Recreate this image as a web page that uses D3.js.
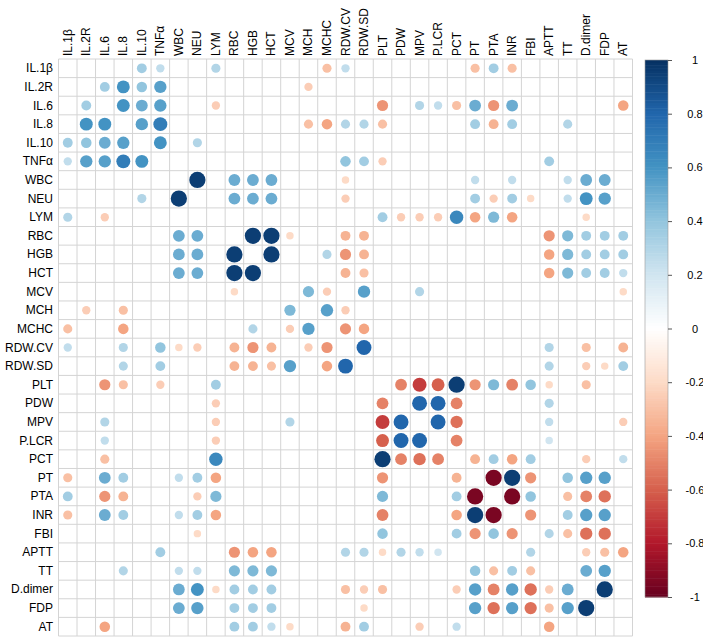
<!DOCTYPE html>
<html><head><meta charset="utf-8">
<script src="https://cdn.jsdelivr.net/npm/d3@7"></script>
<style>body{margin:0;background:#fff}svg{display:block}text{font-family:Arial,"Liberation Sans",sans-serif}</style>
</head><body>
<script>
const variables = ["IL.1β","IL.2R","IL.6","IL.8","IL.10","TNFα","WBC","NEU","LYM","RBC","HGB","HCT","MCV","MCH","MCHC","RDW.CV","RDW.SD","PLT","PDW","MPV","P.LCR","PCT","PT","PTA","INR","FBI","APTT","TT","D.dimer","FDP","AT"];

// upper-triangle correlations [row, column, r]; blank cells are omitted
const correlations = [
 ["IL.1β","IL.10",0.35],["IL.1β","TNFα",0.25],["IL.1β","LYM",0.3],["IL.1β","MCHC",-0.3],["IL.1β","RDW.CV",0.25],["IL.1β","PT",-0.3],["IL.1β","PTA",0.35],["IL.1β","INR",-0.3],
 ["IL.2R","IL.6",0.35],["IL.2R","IL.8",0.6],["IL.2R","IL.10",0.4],["IL.2R","TNFα",0.55],["IL.2R","MCH",-0.25],
 ["IL.6","IL.8",0.6],["IL.6","IL.10",0.5],["IL.6","TNFα",0.55],["IL.6","LYM",-0.25],["IL.6","PLT",-0.45],["IL.6","MPV",0.3],["IL.6","P.LCR",0.25],["IL.6","PCT",-0.3],["IL.6","PT",0.5],["IL.6","PTA",-0.45],["IL.6","INR",0.5],["IL.6","AT",-0.4],
 ["IL.8","IL.10",0.55],["IL.8","TNFα",0.7],["IL.8","MCH",-0.3],["IL.8","MCHC",-0.4],["IL.8","RDW.CV",0.3],["IL.8","RDW.SD",0.3],["IL.8","PLT",-0.3],["IL.8","PT",0.35],["IL.8","PTA",-0.35],["IL.8","INR",0.35],["IL.8","TT",0.3],
 ["IL.10","TNFα",0.6],["IL.10","NEU",0.3],
 ["TNFα","RDW.CV",0.4],["TNFα","RDW.SD",0.35],["TNFα","PLT",-0.25],["TNFα","APTT",0.35],
 ["WBC","NEU",0.95],["WBC","RBC",0.5],["WBC","HGB",0.5],["WBC","HCT",0.5],["WBC","RDW.CV",-0.2],["WBC","PT",0.25],["WBC","INR",0.25],["WBC","TT",0.25],["WBC","D.dimer",0.5],["WBC","FDP",0.5],
 ["NEU","RBC",0.5],["NEU","HGB",0.5],["NEU","HCT",0.5],["NEU","RDW.CV",-0.25],["NEU","PT",0.35],["NEU","PTA",-0.25],["NEU","INR",0.35],["NEU","FBI",-0.2],["NEU","TT",0.25],["NEU","D.dimer",0.6],["NEU","FDP",0.55],
 ["LYM","PLT",0.35],["LYM","PDW",-0.25],["LYM","MPV",-0.25],["LYM","P.LCR",-0.25],["LYM","PCT",0.65],["LYM","PT",-0.4],["LYM","PTA",0.45],["LYM","INR",-0.4],["LYM","D.dimer",-0.2],
 ["RBC","HGB",0.95],["RBC","HCT",0.95],["RBC","MCV",-0.2],["RBC","RDW.CV",-0.35],["RBC","RDW.SD",-0.35],["RBC","APTT",-0.45],["RBC","TT",0.45],["RBC","D.dimer",0.35],["RBC","FDP",0.35],["RBC","AT",0.35],
 ["HGB","HCT",0.95],["HGB","MCHC",0.3],["HGB","RDW.CV",-0.45],["HGB","RDW.SD",-0.35],["HGB","APTT",-0.4],["HGB","TT",0.45],["HGB","D.dimer",0.35],["HGB","FDP",0.35],["HGB","AT",0.35],
 ["HCT","RDW.CV",-0.35],["HCT","RDW.SD",-0.3],["HCT","APTT",-0.4],["HCT","TT",0.45],["HCT","D.dimer",0.35],["HCT","FDP",0.35],["HCT","AT",0.25],
 ["MCV","MCH",0.45],["MCV","MCHC",-0.25],["MCV","RDW.SD",0.55],["MCV","MPV",0.3],["MCV","AT",-0.2],
 ["MCH","MCHC",0.55],["MCH","RDW.CV",-0.25],
 ["MCHC","RDW.CV",-0.45],["MCHC","RDW.SD",-0.4],
 ["RDW.CV","RDW.SD",0.8],["RDW.CV","APTT",0.3],["RDW.CV","D.dimer",-0.3],["RDW.CV","AT",-0.35],
 ["RDW.SD","APTT",0.3],["RDW.SD","D.dimer",-0.25],["RDW.SD","FDP",-0.2],["RDW.SD","AT",0.35],
 ["PLT","PDW",-0.5],["PLT","MPV",-0.7],["PLT","P.LCR",-0.6],["PLT","PCT",0.95],["PLT","PT",-0.45],["PLT","PTA",0.45],["PLT","INR",-0.5],["PLT","FBI",0.4],["PLT","APTT",-0.2],["PLT","D.dimer",-0.3],
 ["PDW","MPV",0.8],["PDW","P.LCR",0.8],["PDW","PCT",-0.5],["PDW","APTT",0.3],
 ["MPV","P.LCR",0.8],["MPV","PCT",-0.55],["MPV","APTT",0.25],["MPV","AT",-0.25],
 ["P.LCR","PCT",-0.5],["P.LCR","APTT",0.2],
 ["PCT","PT",-0.35],["PCT","PTA",0.35],["PCT","INR",-0.4],["PCT","FBI",0.35],["PCT","D.dimer",-0.25],["PCT","AT",0.25],
 ["PT","PTA",-0.95],["PT","INR",0.95],["PT","FBI",-0.45],["PT","TT",0.4],["PT","D.dimer",0.55],["PT","FDP",0.55],
 ["PTA","INR",-0.95],["PTA","FBI",0.4],["PTA","TT",-0.3],["PTA","D.dimer",-0.5],["PTA","FDP",-0.55],
 ["INR","FBI",-0.45],["INR","TT",0.35],["INR","D.dimer",0.55],["INR","FDP",0.55],
 ["FBI","APTT",0.3],["FBI","TT",-0.3],["FBI","D.dimer",-0.55],["FBI","FDP",-0.55],
 ["APTT","D.dimer",-0.25],["APTT","FDP",-0.3],["APTT","AT",-0.4],
 ["TT","D.dimer",0.5],["TT","FDP",0.55],
 ["D.dimer","FDP",0.95]
];

const legendTicks = [1,0.8,0.6,0.4,0.2,0,-0.2,-0.4,-0.6,-0.8,-1];
const legendLabels = ["1","0.8","0.6","0.4","0.2","0","-0.2","-0.4","-0.6","-0.8","-1"];
const paletteStops = ["#67001F","#B2182B","#D6604D","#F4A582","#FDDBC7","#FFFFFF","#D1E5F0","#92C5DE","#4393C3","#2166AC","#053061"];

const W = 703, H = 642;
const svg = d3.select("body").append("svg").attr("width", W).attr("height", H);

const x = d3.scaleBand().domain(variables).range([58.5, 632.5]);
const y = d3.scaleBand().domain(variables).range([59, 636]);
const color = d3.scaleLinear().domain(d3.range(11).map(i => -1 + i * 0.2)).range(paletteStops).clamp(true);

// grid
const grid = svg.append("g");
variables.forEach((v, i) => {
  grid.append("line").attr("x1", x(v)).attr("x2", x(v)).attr("y1", y.range()[0]).attr("y2", y.range()[1]);
  grid.append("line").attr("y1", y(v)).attr("y2", y(v)).attr("x1", x.range()[0]).attr("x2", x.range()[1]);
});
grid.append("line").attr("x1", x.range()[1]).attr("x2", x.range()[1]).attr("y1", y.range()[0]).attr("y2", y.range()[1]);
grid.append("line").attr("y1", y.range()[1]).attr("y2", y.range()[1]).attr("x1", x.range()[0]).attr("x2", x.range()[1]);
grid.selectAll("line").attr("stroke", "#d4d4d4").attr("stroke-width", 1);

// symmetric cells
const cells = [];
correlations.forEach(([a, b, r]) => { cells.push({row: a, col: b, r}); cells.push({row: b, col: a, r}); });
const maxR = 0.45 * Math.min(x.bandwidth(), y.bandwidth());
svg.append("g").selectAll("circle").data(cells).join("circle")
  .attr("cx", d => x(d.col) + x.bandwidth() / 2)
  .attr("cy", d => y(d.row) + y.bandwidth() / 2)
  .attr("r", d => maxR * Math.sqrt(Math.abs(d.r)))
  .attr("fill", d => color(d.r));

// labels
svg.append("g").selectAll("text").data(variables).join("text")
  .attr("x", 53).attr("y", d => y(d) + y.bandwidth() / 2)
  .attr("text-anchor", "end").attr("dominant-baseline", "central")
  .attr("font-size", 12).attr("fill", "#000").text(d => d);
svg.append("g").selectAll("text").data(variables).join("text")
  .attr("transform", d => `translate(${x(d) + x.bandwidth() / 2},56) rotate(-90)`)
  .attr("text-anchor", "start").attr("dominant-baseline", "central")
  .attr("font-size", 12).attr("fill", "#000").text(d => d);

// colour legend
const ly = d3.scaleLinear().domain([1, -1]).range([60, 597]);
const leg = svg.append("g");
const steps = d3.range(200);
const stepH = (ly(-1) - ly(1)) / steps.length;
leg.selectAll("rect").data(steps).join("rect")
  .attr("x", 645).attr("width", 23)
  .attr("y", i => ly(1) + i * stepH).attr("height", stepH + 0.5)
  .attr("fill", i => color(1 - (i + 0.5) * 2 / steps.length));
leg.append("rect").attr("x", 645).attr("y", ly(1)).attr("width", 23).attr("height", ly(-1) - ly(1))
  .attr("fill", "none").attr("stroke", "#999").attr("stroke-width", 0.6);
const axis = d3.axisRight(ly).tickValues(legendTicks).tickSize(4).tickFormat((d, i) => legendLabels[i]);
const ag = svg.append("g").attr("transform", "translate(668,0)").call(axis);
ag.select(".domain").remove();
ag.selectAll("line").attr("stroke", "#555");
ag.selectAll("text").attr("x", 27).attr("text-anchor", "middle").attr("font-size", 11).attr("fill", "#000")
  .style("font-family", "Arial, 'Liberation Sans', sans-serif");
</script>
</body></html>
